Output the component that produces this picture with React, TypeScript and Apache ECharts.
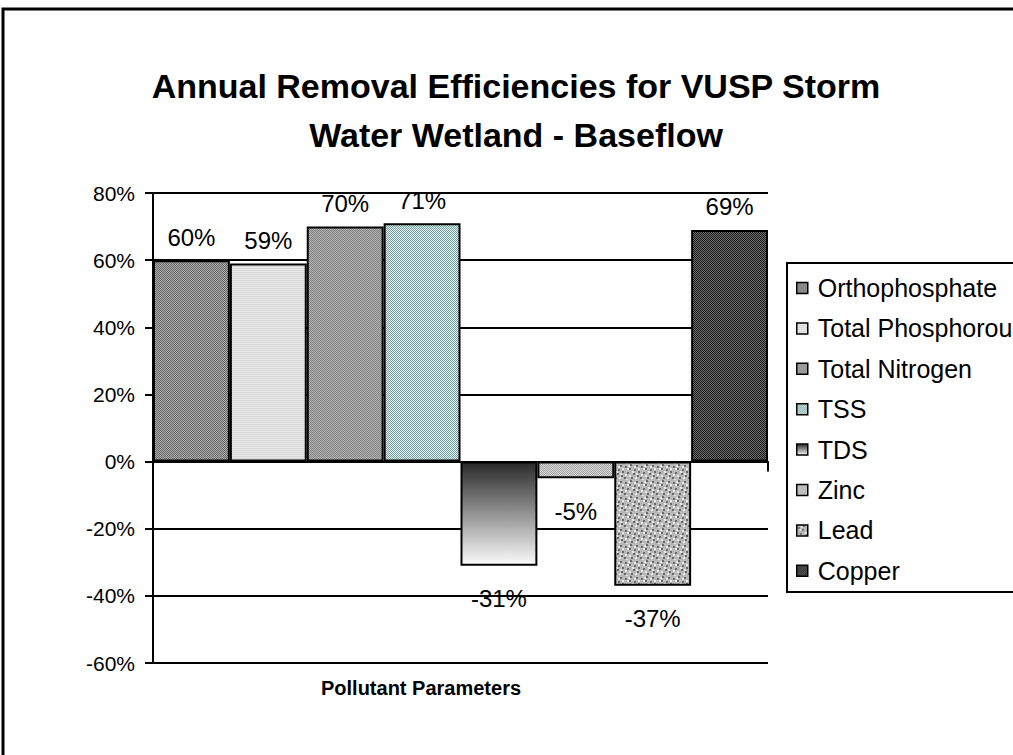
import React, { useEffect, useRef } from "react";
import * as echarts from "echarts";

const categories = [""];
const seriesNames = [
  "Orthophosphate",
  "Total Phosphorous",
  "Total Nitrogen",
  "TSS",
  "TDS",
  "Zinc",
  "Lead",
  "Copper",
];
const values = [60, 59, 70, 71, -31, -5, -37, 69];
const yMin = -60;
const yMax = 80;
const yInterval = 20;

const FONT = "Liberation Sans, Arial, sans-serif";

function checker(a: string, b: string, size: number) {
  const c = document.createElement("canvas");
  c.width = size * 2;
  c.height = size * 2;
  const ctx = c.getContext("2d")!;
  ctx.fillStyle = a;
  ctx.fillRect(0, 0, size * 2, size * 2);
  ctx.fillStyle = b;
  ctx.fillRect(0, 0, size, size);
  ctx.fillRect(size, size, size, size);
  return { image: c, repeat: "repeat" as const };
}

function stripes(a: string, b: string) {
  const c = document.createElement("canvas");
  c.width = 2;
  c.height = 2;
  const ctx = c.getContext("2d")!;
  ctx.fillStyle = a;
  ctx.fillRect(0, 0, 2, 2);
  ctx.fillStyle = b;
  ctx.fillRect(0, 0, 2, 1);
  return { image: c, repeat: "repeat" as const };
}

function granite() {
  const s = 16;
  const c = document.createElement("canvas");
  c.width = s;
  c.height = s;
  const ctx = c.getContext("2d")!;
  ctx.fillStyle = "#b8b8b8";
  ctx.fillRect(0, 0, s, s);
  const dark = [[1, 2], [6, 0], [10, 5], [3, 8], [13, 11], [7, 13], [0, 13], [12, 1], [5, 4], [9, 9], [14, 7]];
  const light = [[3, 4], [8, 7], [14, 4], [1, 10], [5, 11], [11, 13], [4, 1], [10, 2], [12, 9], [2, 15]];
  ctx.fillStyle = "#6c6c6c";
  dark.forEach(([x, y]) => ctx.fillRect(x, y, 2, 2));
  ctx.fillStyle = "#e8e8e8";
  light.forEach(([x, y]) => ctx.fillRect(x, y, 2, 2));
  return { image: c, repeat: "repeat" as const };
}

export default function App() {
  const ref = useRef<HTMLDivElement>(null);

  useEffect(() => {
    if (!ref.current) return;
    const chart = echarts.init(ref.current, undefined, { renderer: "svg" });

    const fills: any[] = [
      checker("#a8a8a8", "#6a6a6a", 1),
      stripes("#e8e8e8", "#d8d8d8"),
      checker("#b0b0b0", "#858585", 1),
      checker("#dcf4f4", "#7c9c9c", 1),
      new echarts.graphic.LinearGradient(0, 0, 0, 1, [
        { offset: 0, color: "#2a2a2a" },
        { offset: 1, color: "#fbfbfb" },
      ]),
      checker("#d4d4d4", "#a8a8a8", 1),
      granite(),
      checker("#6a6a6a", "#1e1e1e", 1),
    ];

    const series = seriesNames.map((name, i) => ({
      name,
      type: "bar",
      data: [values[i]],
      barGap: "0%",
      barCategoryGap: "0%",
      itemStyle: {
        color: fills[i],
        borderColor: "#000",
        borderWidth: 2,
      },
      label: {
        show: true,
        position: values[i] >= 0 ? "top" : "bottom",
        distance: values[i] >= 0 ? 11 : 21,
        formatter: "{c}%",
        color: "#000",
        fontSize: 24,
        fontFamily: FONT,
      },
    }));

    chart.setOption({
      animation: false,
      backgroundColor: "#fff",
      grid: { left: 153, right: 245, top: 193, bottom: 92, containLabel: false },
      xAxis: {
        type: "category",
        data: categories,
        axisLine: { onZero: true, lineStyle: { color: "#000", width: 2 } },
        axisTick: { show: true, length: 10, lineStyle: { color: "#000", width: 2 } },
        axisLabel: { show: false },
        splitLine: { show: false },
      },
      yAxis: {
        type: "value",
        min: yMin,
        max: yMax,
        interval: yInterval,
        axisLine: { show: true, lineStyle: { color: "#000", width: 2 } },
        axisTick: { show: true, length: 8, lineStyle: { color: "#000", width: 2 } },
        axisLabel: {
          formatter: "{value}%",
          color: "#000",
          fontSize: 21,
          fontFamily: FONT,
          margin: 18,
        },
        splitLine: { show: true, lineStyle: { color: "#000", width: 2 } },
      },
      legend: {
        orient: "vertical",
        left: 796,
        top: 275.5,
        padding: 0,
        itemWidth: 11,
        itemHeight: 11,
        itemGap: 15.4,
        icon: "rect",
        itemStyle: { borderColor: "#000", borderWidth: 1.5 },
        textStyle: {
          color: "#000",
          fontSize: 25,
          lineHeight: 25,
          fontFamily: FONT,
          padding: [0, 0, 0, 5],
        },
        data: seriesNames,
      },
      graphic: [
        {
          type: "rect",
          shape: { x: 3, y: 9, width: 1200, height: 900 },
          style: { fill: "none", stroke: "#000", lineWidth: 3 },
          silent: true,
          z: 100,
        },
        {
          type: "rect",
          shape: { x: 787, y: 263, width: 400, height: 329 },
          style: { fill: "none", stroke: "#000", lineWidth: 2 },
          silent: true,
          z: 100,
        },
        {
          type: "text",
          x: 516,
          y: 86,
          style: {
            text: "Annual Removal Efficiencies for VUSP Storm",
            textAlign: "center",
            textVerticalAlign: "middle",
            fontSize: 34,
            fontWeight: "bold",
            fontFamily: FONT,
            fill: "#000",
          },
        },
        {
          type: "text",
          x: 516,
          y: 135,
          style: {
            text: "Water Wetland - Baseflow",
            textAlign: "center",
            textVerticalAlign: "middle",
            fontSize: 34,
            fontWeight: "bold",
            fontFamily: FONT,
            fill: "#000",
          },
        },
        {
          type: "text",
          x: 421,
          y: 688,
          style: {
            text: "Pollutant Parameters",
            textAlign: "center",
            textVerticalAlign: "middle",
            fontSize: 20,
            fontWeight: "bold",
            fontFamily: FONT,
            fill: "#000",
          },
        },
      ],
      series,
    });

    return () => chart.dispose();
  }, []);

  return (
    <div
      ref={ref}
      style={{ position: "absolute", left: 0, top: 0, width: 1013, height: 755 }}
    />
  );
}
